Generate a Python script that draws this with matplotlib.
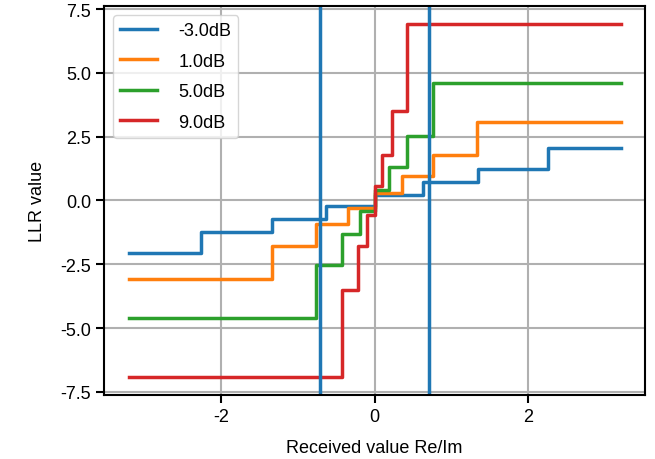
import numpy as np
import matplotlib
matplotlib.use("Agg")
import matplotlib.pyplot as plt

plt.rcParams['font.family'] = ['Liberation Sans', 'DejaVu Sans']
plt.rcParams['axes.unicode_minus'] = False

# step edges (x) and LLR levels for each SNR
snr_labels = ['-3.0dB', '1.0dB', '5.0dB', '9.0dB']

x_m3 = [-3.2, -2.26, -1.34, -0.63, 0.0, 0.63, 1.34, 2.26, 3.2]
llr_m3 = [-2.04, -1.22, -0.72, -0.22, 0.22, 0.72, 1.22, 2.04, 2.04]

x_1 = [-3.2, -1.33, -0.76, -0.35, 0.0, 0.35, 0.76, 1.33, 3.2]
llr_1 = [-3.06, -1.77, -0.94, -0.31, 0.31, 0.94, 1.77, 3.06, 3.06]

x_5 = [-3.2, -0.76, -0.42, -0.19, 0.0, 0.19, 0.42, 0.76, 3.2]
llr_5 = [-4.6, -2.51, -1.33, -0.43, 0.43, 1.33, 2.51, 4.6, 4.6]

x_9 = [-3.2, -0.42, -0.22, -0.1, 0.0, 0.1, 0.22, 0.42, 3.2]
llr_9 = [-6.93, -3.49, -1.77, -0.55, 0.55, 1.77, 3.49, 6.93, 6.93]

decision_bounds = [-1 / np.sqrt(2), 1 / np.sqrt(2)]

fig = plt.figure(figsize=(6.55, 4.6), dpi=100)
ax = fig.add_axes([0.159, 0.139, 0.826, 0.846])

for xs, ys, lab in zip([x_m3, x_1, x_5, x_9], [llr_m3, llr_1, llr_5, llr_9], snr_labels):
    ax.step(xs, ys, where='post', lw=2.5, label=lab)

for b in decision_bounds:
    ax.axvline(b, color='C0', lw=2.5)

ax.set_xticks([-2, 0, 2])
ax.set_yticks([-7.5, -5.0, -2.5, 0.0, 2.5, 5.0, 7.5])
ax.grid(True, color='#b0b0b0', lw=1.5)
ax.set_axisbelow(True)
for s in ax.spines.values():
    s.set_linewidth(1.5)
    s.set_color('black')
ax.tick_params(labelsize=13, length=6, width=1.5, direction='out')
ax.set_xlabel('Received value Re/Im', fontsize=13, labelpad=10)
ax.set_ylabel('LLR value', fontsize=13, labelpad=10)
ax.legend(loc='upper left', fontsize=13, labelspacing=0.75, handletextpad=1.2)

fig.savefig('out.png', dpi=100)
